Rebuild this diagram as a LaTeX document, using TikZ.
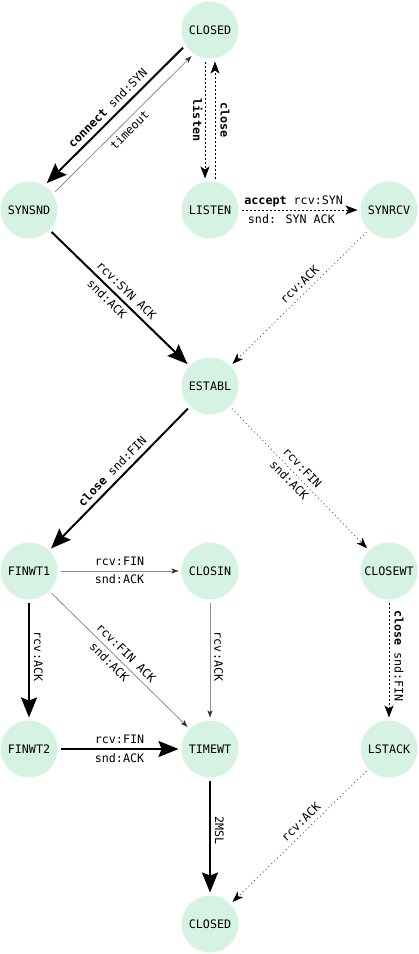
\documentclass[tikz,border=0pt]{standalone}
\usepackage{fontspec}
\usetikzlibrary{arrows.meta}
\newfontfamily\dvm{DejaVu Sans Mono}
\definecolor{mint}{RGB}{213,242,227}
\newcommand{\lf}{\dvm\fontsize{11.7bp}{14bp}\selectfont}
\begin{document}
\begin{tikzpicture}[x=1bp,y=1bp,
  stnode/.style={circle,fill=mint,minimum size=57bp,inner sep=0pt,outer sep=3bp,font=\lf,text=black},
  lab/.style={font=\lf,text=black,text height=8.5bp,text depth=2.5bp,inner xsep=0pt},
  la/.style={lab,above,inner ysep=2.5bp},
  lb/.style={lab,below,inner ysep=4bp},
  vr/.style={lab,rotate=-90,anchor=south,inner ysep=1.5bp},
  vl/.style={lab,rotate=-90,anchor=north,inner ysep=3bp},
  thickedge/.style={line width=2bp,-{Stealth[length=20bp,width=16bp,inset=3bp]}},
  dotedge/.style={line width=1bp,dash pattern=on 2bp off 2bp,-{Stealth[length=12bp,width=9bp,inset=3bp]}},
  fineedge/.style={line width=0.8bp,black!70,dash pattern=on 1bp off 3bp,-{Stealth[length=11bp,width=8bp,inset=3bp,color=black]}},
  grayedge/.style={line width=0.8bp,black!45,-{Stealth[length=7bp,width=5bp,inset=1.5bp,color=black!80]}},
]
\useasboundingbox (0,0) rectangle (418,-954);

\node[stnode] (closed)  at (210,-30)  {CLOSED};
\node[stnode] (synsnd)  at (29,-210)  {SYNSND};
\node[stnode] (listen)  at (210,-210) {LISTEN};
\node[stnode] (synrcv)  at (389,-210) {SYNRCV};
\node[stnode] (establ)  at (210,-386) {ESTABL};
\node[stnode] (finwt1)  at (29,-571)  {FINWT1};
\node[stnode] (closin)  at (210,-571) {CLOSIN};
\node[stnode] (closewt) at (389,-571) {CLOSEWT};
\node[stnode] (finwt2)  at (29,-749)  {FINWT2};
\node[stnode] (timewt)  at (210,-749) {TIMEWT};
\node[stnode] (lstack)  at (389,-749) {LSTACK};
\node[stnode] (closed2) at (210,-924) {CLOSED};

\draw[thickedge,transform canvas={xshift=-4.6bp,yshift=4.6bp}] (closed) -- node[la,sloped] {\textbf{connect} snd:SYN} (synsnd);
\draw[grayedge,transform canvas={xshift=3.9bp,yshift=-3.9bp}] (synsnd) -- node[lb,sloped] {timeout} (closed);
\draw[dotedge,transform canvas={xshift=-5bp}] (closed) -- node[vl] {\textbf{listen}} (listen);
\draw[dotedge,transform canvas={xshift=5bp}] (listen) -- node[vr,inner ysep=2.5bp] {\textbf{close}} (closed);
\draw[dotedge] (listen) -- node[la,pos=0.45] {\textbf{accept} rcv:SYN} node[lb,pos=0.43] {snd: SYN ACK} (synrcv);
\draw[fineedge] (synrcv) -- node[la,sloped,pos=0.45] {rcv:ACK} (establ);
\draw[thickedge] (synsnd) -- node[la,sloped,pos=0.5] {rcv:SYN ACK} node[lb,sloped,pos=0.455] {snd:ACK} (establ);
\draw[thickedge] (establ) -- node[la,sloped] {\textbf{close} snd:FIN} (finwt1);
\draw[fineedge] (establ) -- node[la,sloped,pos=0.47] {rcv:FIN} node[lb,sloped,pos=0.47] {snd:ACK} (closewt);
\draw[grayedge] (finwt1) -- node[la] {rcv:FIN} node[lb] {snd:ACK} (closin);
\draw[grayedge] (finwt1) -- node[la,sloped] {rcv:FIN ACK} node[lb,sloped,pos=0.47] {snd:ACK} (timewt);
\draw[grayedge] (closin) -- node[vr,pos=0.47] {rcv:ACK} (timewt);
\draw[thickedge] (finwt1) -- node[vr,pos=0.47] {rcv:ACK} (finwt2);
\draw[thickedge] (finwt2) -- node[la] {rcv:FIN} node[lb] {snd:ACK} (timewt);
\draw[dotedge] (closewt) -- node[vr,pos=0.465,inner ysep=2.5bp] {\textbf{close} snd:FIN} (lstack);
\draw[thickedge] (timewt) -- node[vr,pos=0.45] {2MSL} (closed2);
\draw[fineedge] (lstack) -- node[la,sloped,pos=0.44] {rcv:ACK} (closed2);
\end{tikzpicture}
\end{document}
